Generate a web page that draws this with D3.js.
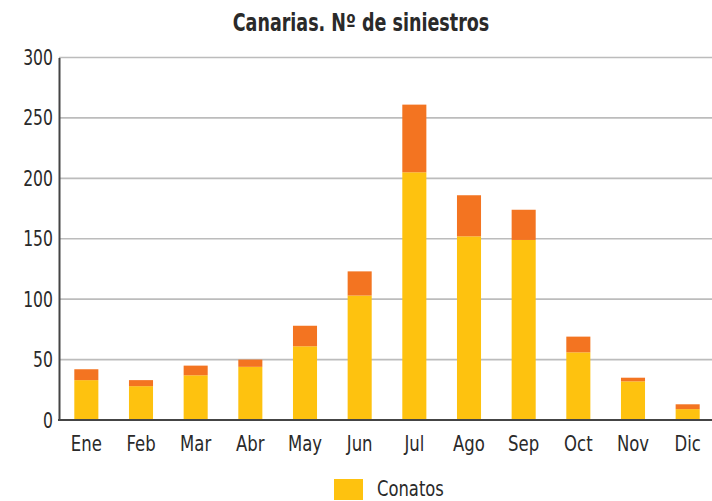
<!DOCTYPE html>
<html>
<head>
<meta charset="utf-8">
<script src="https://cdn.jsdelivr.net/npm/d3@7"></script>
<style>
  body { margin: 0; background: #fff; }
  text { font-family: "DejaVu Sans", sans-serif; fill: #2a2a2a; }
</style>
</head>
<body>
<svg id="chart" width="712" height="501"></svg>
<script>
(function (w) {
  const months = ['Ene', 'Feb', 'Mar', 'Abr', 'May', 'Jun', 'Jul', 'Ago', 'Sep', 'Oct', 'Nov', 'Dic']
  const conatos = [33, 28, 37, 44, 61, 103, 205, 152, 149, 56, 32, 9]
  const incendios = [9, 5, 8, 6, 17, 20, 56, 34, 25, 13, 3, 4]
  const yTicks = [0, 50, 100, 150, 200, 250, 300]
  const seriesNames = ['Conatos', 'Incendios']
  const colors = ['#fec20f', '#f37421']

  const d3 = w.d3
  const svg = d3.select('#chart')
  const left = 59
  const top = 57.5
  const bottom = 420

  // no condensed face installed, so squeeze glyphs horizontally
  function narrow (sel, k) {
    sel.each(function () {
      const len = this.getComputedTextLength()
      d3.select(this)
        .attr('textLength', len * k)
        .attr('lengthAdjust', 'spacingAndGlyphs')
    })
  }

  const rows = months.map((m, i) => ({ month: m, Conatos: conatos[i], Incendios: incendios[i] }))
  const stacked = d3.stack().keys(seriesNames)(rows)

  let x = d3.scaleBand()
    .domain(months)
    .range([left, 715])
    .paddingInner(0.56)
    .paddingOuter(0.28)

  let y = d3.scaleLinear()
    .domain([0, 300])
    .range([bottom, top])

  // gridlines
  svg.append('g')
    .selectAll('line')
    .data(yTicks.filter((d) => d > 0))
    .enter().append('line')
    .attr('x1', left)
    .attr('x2', 712)
    .attr('y1', (d) => y(d))
    .attr('y2', (d) => y(d))
    .attr('stroke', '#bcbcbc')
    .attr('stroke-width', 1.6)

  // bars
  svg.append('g')
    .selectAll('g')
    .data(stacked)
    .enter().append('g')
    .attr('fill', (d, i) => colors[i])
    .selectAll('rect')
    .data((d) => d)
    .enter().append('rect')
    .attr('x', (d) => x(d.data.month))
    .attr('width', x.bandwidth())
    .attr('y', (d) => y(d[1]))
    .attr('height', (d) => y(d[0]) - y(d[1]))

  // y axis
  const yAxis = svg.append('g')
    .attr('transform', `translate(${left},0)`)
    .call(d3.axisLeft(y).tickValues(yTicks).tickSize(0).tickPadding(6))
  yAxis.select('.domain').attr('stroke', '#444').attr('stroke-width', 2)
  yAxis.selectAll('text')
    .attr('font-size', 22)
    .attr('font-family', '"DejaVu Sans", sans-serif')
    .attr('fill', '#2a2a2a')
    .call(narrow, 0.71)

  // x axis
  const xAxis = svg.append('g')
    .attr('transform', `translate(0,${bottom})`)
    .call(d3.axisBottom(x).tickSize(0).tickPadding(15))
  xAxis.select('.domain').remove()
  svg.append('line')
    .attr('x1', left - 1)
    .attr('x2', 712)
    .attr('y1', bottom)
    .attr('y2', bottom)
    .attr('stroke', '#444')
    .attr('stroke-width', 2)
  xAxis.selectAll('text')
    .attr('font-size', 22)
    .attr('font-family', '"DejaVu Sans", sans-serif')
    .attr('fill', '#2a2a2a')
    .call(narrow, 0.75)

  // title
  svg.append('text')
    .attr('x', 361)
    .attr('y', 31)
    .attr('text-anchor', 'middle')
    .attr('font-size', 24)
    .attr('font-weight', 'bold')
    .attr('fill', '#1f2233')
    .text('Canarias. Nº de siniestros')
    .call(narrow, 0.73)

  // legend
  const legend = svg.append('g').attr('transform', 'translate(334,479)')
  legend.append('rect')
    .attr('width', 29)
    .attr('height', 21)
    .attr('fill', colors[0])
  legend.append('text')
    .attr('x', 43)
    .attr('y', 17)
    .attr('font-size', 21)
    .text(seriesNames[0])
    .call(narrow, 0.78)
})(window)
</script>
</body>
</html>
